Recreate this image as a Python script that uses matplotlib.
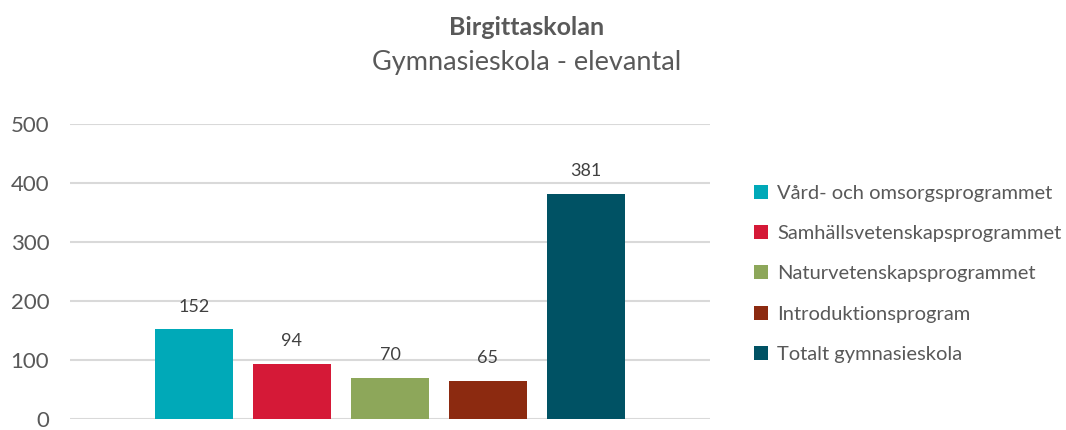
import matplotlib.pyplot as plt
from matplotlib.patches import Patch

# Data
program = ["Vård- och omsorgsprogrammet", "Samhällsvetenskapsprogrammet",
           "Naturvetenskapsprogrammet", "Introduktionsprogram", "Totalt gymnasieskola"]
elevantal = [152, 94, 70, 65, 381]
farger = ["#00A9B8", "#D51937", "#8DA75A", "#8C2A10", "#005264"]
yticks = [0, 100, 200, 300, 400, 500]

plt.rcParams['font.family'] = ['Lato', 'DejaVu Sans']

fig = plt.figure(figsize=(10.66, 4.30), dpi=100)
ax = fig.add_axes([0.0657, 0.0256, 0.6003, 0.686])

x = list(range(len(elevantal)))
bars = ax.bar(x, elevantal, width=0.8, color=farger, zorder=3)

for xi, v in zip(x, elevantal):
    ax.text(xi, v + 25, str(v), ha='center', va='bottom', fontsize=13, color='#404040')

ax.set_xlim(-1.265, 5.265)
ax.set_ylim(0, 500)
ax.set_yticks(yticks)
ax.set_xticks([])
ax.grid(axis='y', color='#D9D9D9', linewidth=1.5, zorder=0)
ax.tick_params(axis='y', length=0, pad=15, labelsize=16, labelcolor='#595959')
for s in ax.spines.values():
    s.set_visible(False)

fig.text(0.494, 0.935, "Birgittaskolan", ha='center', va='center',
         fontsize=18, fontweight='bold', color='#595959')
fig.text(0.494, 0.855, "Gymnasieskola - elevantal", ha='center', va='center',
         fontsize=19.5, color='#595959')

handles = [Patch(facecolor=c, edgecolor='none') for c in farger]
fig.legend(handles, program, loc='center left', bbox_to_anchor=(0.700, 0.363),
           frameon=False, fontsize=14.5, labelcolor='#595959',
           handlelength=0.7, handleheight=0.7, handletextpad=0.45,
           labelspacing=1.15, borderaxespad=0)

fig.savefig("out.png", dpi=100)
